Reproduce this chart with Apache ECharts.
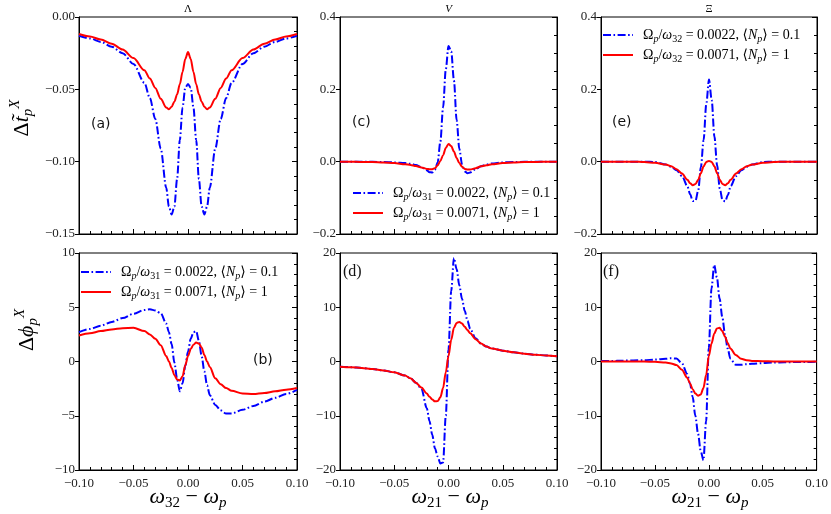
<!DOCTYPE html>
<html>
<head>
<meta charset="utf-8">
<script src="https://cdn.jsdelivr.net/npm/echarts@6/dist/echarts.min.js"></script>
<style>
html, body { margin: 0; padding: 0; background: #fff; }
#container { width: 831px; height: 514px; }
</style>
</head>
<body>
<div id="container"></div>
<script>
// detuning grid (denser near resonance)
var xValues = [-0.1,-0.09,-0.08,-0.07,-0.06,-0.05,-0.04,-0.035,-0.03,-0.025,-0.02,-0.0175,-0.015,-0.0125,-0.01,-0.0075,-0.005,-0.0025,0,
               0.0025,0.005,0.0075,0.01,0.0125,0.015,0.0175,0.02,0.025,0.03,0.035,0.04,0.05,0.06,0.07,0.08,0.09,0.1];

// top row: delta t_p (Lambda, V, Xi)
var tLambdaBlue = [-0.013,-0.0148,-0.0172,-0.0205,-0.025,-0.0325,-0.0455,-0.056,-0.0705,-0.091,-0.118,-0.131,-0.1365,-0.131,-0.112,-0.085,-0.0625,-0.049,-0.0463,
                   -0.049,-0.0625,-0.085,-0.112,-0.131,-0.1365,-0.131,-0.118,-0.091,-0.0705,-0.056,-0.0455,-0.0325,-0.025,-0.0205,-0.0172,-0.0148,-0.013];
var tLambdaRed = [-0.0118,-0.0135,-0.0155,-0.0185,-0.0225,-0.0284,-0.0368,-0.0425,-0.049,-0.0565,-0.0625,-0.0638,-0.062,-0.0585,-0.0535,-0.0465,-0.038,-0.029,-0.0242,
                  -0.029,-0.038,-0.0465,-0.0535,-0.0585,-0.062,-0.0638,-0.0625,-0.0565,-0.049,-0.0425,-0.0368,-0.0284,-0.0225,-0.0185,-0.0155,-0.0135,-0.0118];
var tVBlue = [0,0,0,-0.0005,-0.001,-0.002,-0.004,-0.006,-0.009,-0.015,-0.024,-0.029,-0.03,-0.022,-0.002,0.055,0.15,0.255,0.32,
              0.305,0.225,0.115,0.035,-0.008,-0.027,-0.032,-0.03,-0.021,-0.013,-0.008,-0.005,-0.002,-0.001,-0.0005,0,0,0];
var tVRed = [0,0,-0.001,-0.001,-0.002,-0.004,-0.007,-0.009,-0.012,-0.016,-0.02,-0.021,-0.021,-0.018,-0.01,0.002,0.018,0.038,0.049,
             0.043,0.028,0.01,-0.004,-0.014,-0.02,-0.022,-0.022,-0.018,-0.013,-0.01,-0.007,-0.004,-0.002,-0.001,-0.001,0,0];
var tXiBlue = [0,0,0,0,0,-0.001,-0.008,-0.014,-0.024,-0.04,-0.068,-0.09,-0.109,-0.108,-0.08,-0.015,0.06,0.16,0.227,
               0.17,0.07,-0.01,-0.075,-0.106,-0.11,-0.092,-0.068,-0.04,-0.024,-0.014,-0.008,-0.001,0,0,0,0,0];
var tXiRed = [0,0,0,0,-0.001,-0.003,-0.008,-0.013,-0.021,-0.033,-0.05,-0.06,-0.065,-0.062,-0.05,-0.032,-0.013,-0.001,0.002,
              -0.001,-0.013,-0.032,-0.05,-0.062,-0.065,-0.06,-0.05,-0.033,-0.021,-0.013,-0.008,-0.003,-0.001,0,0,0,0];

// bottom row: delta phi_p
var phiLambdaBlue = [2.7,3.0,3.3,3.65,4.0,4.4,4.75,4.82,4.7,4.45,3.5,2.7,1.6,-0.1,-1.6,-2.75,-2.0,-0.4,0.9,
                     2.1,2.7,2.8,1.9,0.5,-0.9,-2.2,-3.1,-4.0,-4.5,-4.8,-4.8,-4.45,-4.1,-3.7,-3.35,-3.0,-2.62];
var phiLambdaRed = [2.4,2.6,2.8,2.95,3.07,3.1,2.8,2.5,2.1,1.5,0.5,0.0,-0.6,-1.25,-1.65,-1.75,-1.35,-0.35,0.5,
                    1.15,1.55,1.75,1.65,1.3,0.6,0.0,-0.5,-1.55,-2.1,-2.45,-2.7,-2.95,-3.0,-2.9,-2.75,-2.6,-2.45];
var phiVBlue = [-0.95,-1.05,-1.2,-1.4,-1.65,-2.0,-2.6,-3.1,-3.9,-5.0,-8.6,-11.0,-13.5,-16.0,-17.5,-18.8,-18.6,-10.0,2.2,
                13.0,19.1,17.0,14.0,11.5,9.3,7.5,6.0,4.3,3.3,2.75,2.4,2.0,1.7,1.45,1.25,1.1,0.95];
var phiVRed = [-0.95,-1.05,-1.2,-1.4,-1.65,-2.0,-2.6,-3.1,-3.9,-4.8,-5.9,-6.5,-7.0,-7.35,-7.3,-6.6,-4.9,-2.0,1.0,
               4.0,6.2,7.1,7.3,7.0,6.4,5.8,5.2,4.1,3.3,2.75,2.4,2.0,1.7,1.45,1.25,1.1,0.95];
var phiXiBlue = [0.1,0.1,0.15,0.2,0.25,0.35,0.5,0.6,0.55,-0.3,-2.3,-4.0,-6.5,-10.0,-13.3,-16.5,-18.2,-11.0,2.5,
                 13.5,17.8,15.5,11.6,8.2,5.0,2.4,0.5,-0.6,-0.6,-0.5,-0.4,-0.3,-0.2,-0.15,-0.1,-0.1,-0.05];
var phiXiRed = [0,0,0,0,0,-0.05,-0.2,-0.35,-0.65,-1.5,-3.0,-4.0,-5.1,-5.9,-6.3,-6.1,-4.9,-2.5,1.0,
                3.3,5.1,6.1,6.2,5.6,4.6,3.4,2.4,1.2,0.5,0.25,0.1,0.05,0,0,0,0,0];

// axis ranges [min, max, interval, decimals, minor splits]
var xRange = [-0.1, 0.1, 0.05, 2, 5];
var yRanges = [[-0.15, 0, 0.05, 2, 5], [-0.2, 0.4, 0.2, 1, 4], [-0.2, 0.4, 0.2, 1, 4],
               [-10, 10, 5, 0, 5], [-20, 20, 10, 0, 5], [-20, 20, 10, 0, 5]];
var panelTitles = ['Λ', 'V', 'Ξ'];
var panelLetters = ['(a)', '(c)', '(e)', '(b)', '(d)', '(f)'];
var legendTexts = {
    blue31: '{u|Ω}{si|p}{u|/}{i|ω}{s|31}{u| = 0.0022, ⟨}{i|N}{si|p}{u|⟩ = 0.1}',
    red31:  '{u|Ω}{si|p}{u|/}{i|ω}{s|31}{u| = 0.0071, ⟨}{i|N}{si|p}{u|⟩ = 1}',
    blue32: '{u|Ω}{si|p}{u|/}{i|ω}{s|32}{u| = 0.0022, ⟨}{i|N}{si|p}{u|⟩ = 0.1}',
    red32:  '{u|Ω}{si|p}{u|/}{i|ω}{s|32}{u| = 0.0071, ⟨}{i|N}{si|p}{u|⟩ = 1}'
};

var serif = 'Liberation Serif, DejaVu Serif, serif';
var blueDash = [8, 2.5, 1.6, 2.5];

function fmt(dec) {
    return function (v) {
        return (v < -1e-9 ? '−' : '') + Math.abs(v).toFixed(dec);
    };
}
function pairs(ys) {
    return xValues.map(function (x, i) { return [x, ys[i]]; });
}

var boxes = [[79, 17, 218, 217], [340, 17, 217, 217], [601, 17, 216, 217],
             [79, 253, 218, 217], [340, 253, 217, 217], [601, 253, 216, 217]];
var curves = [[tLambdaBlue, tLambdaRed], [tVBlue, tVRed], [tXiBlue, tXiRed],
              [phiLambdaBlue, phiLambdaRed], [phiVBlue, phiVRed], [phiXiBlue, phiXiRed]];
var names = [['a1', 'a2'], ['blue31', 'red31'], ['blue32', 'red32'],
             ['blue31', 'red31'], ['d1', 'd2'], ['f1', 'f2']];

var grids = [], xAxes = [], yAxes = [], series = [];
for (var i = 0; i < 6; i++) {
    var b = boxes[i], yr = yRanges[i];
    grids.push({left: b[0], top: b[1], width: b[2], height: b[3], show: true,
                borderColor: '#000', borderWidth: 1, backgroundColor: 'transparent'});
    xAxes.push({
        type: 'value', gridIndex: i, min: xRange[0], max: xRange[1], interval: xRange[2],
        axisLine: {show: true, onZero: false, lineStyle: {color: '#000', width: 1}},
        axisTick: {show: true, inside: true, length: 5, lineStyle: {color: '#000'}},
        minorTick: {show: true, splitNumber: xRange[4], length: 3, lineStyle: {color: '#000'}},
        splitLine: {show: false},
        axisLabel: {show: i >= 3, formatter: fmt(xRange[3]), fontFamily: serif, fontSize: 13,
                    color: '#222', margin: 7}
    });
    yAxes.push({
        type: 'value', gridIndex: i, position: 'left', min: yr[0], max: yr[1], interval: yr[2],
        axisLine: {show: true, onZero: false, lineStyle: {color: '#000', width: 1}},
        axisTick: {show: true, inside: false, length: 4, lineStyle: {color: '#000'}},
        splitLine: {show: false},
        axisLabel: {formatter: fmt(yr[3]), fontFamily: serif, fontSize: 13, color: '#222', margin: 4}
    });
    yAxes.push({
        type: 'value', gridIndex: i, position: 'right', min: yr[0], max: yr[1], interval: yr[2],
        axisLine: {show: true, onZero: false, lineStyle: {color: '#000', width: 1}},
        axisTick: {show: true, inside: true, length: 5, lineStyle: {color: '#000'}},
        minorTick: {show: true, splitNumber: yr[4], length: 3, lineStyle: {color: '#000'}},
        splitLine: {show: false},
        axisLabel: {show: false}
    });
    series.push({
        name: names[i][0], type: 'line', xAxisIndex: i, yAxisIndex: 2 * i, data: pairs(curves[i][0]),
        symbol: 'none', smooth: 0.3, smoothMonotone: 'x', itemStyle: {color: '#0000ff'},
        lineStyle: {color: '#0000ff', width: 2, type: blueDash}
    });
    series.push({
        name: names[i][1], type: 'line', xAxisIndex: i, yAxisIndex: 2 * i, data: pairs(curves[i][1]),
        symbol: 'none', smooth: 0.3, smoothMonotone: 'x', itemStyle: {color: '#ff0000'},
        lineStyle: {color: '#ff0000', width: 2}
    });
}

var legendRich = {
    u: {fontFamily: serif, fontSize: 14, color: '#000', lineHeight: 18},
    i: {fontFamily: serif, fontSize: 14, fontStyle: 'italic', color: '#000', lineHeight: 18},
    s: {fontFamily: serif, fontSize: 10, color: '#000', lineHeight: 11, verticalAlign: 'bottom'},
    si: {fontFamily: serif, fontSize: 10, fontStyle: 'italic', color: '#000', lineHeight: 11, verticalAlign: 'bottom'}
};
function makeLegend(left, top, data) {
    return {
        left: left, top: top, orient: 'vertical', data: data, itemWidth: 30, itemHeight: 14, itemGap: 4,
        selectedMode: false, padding: 0,
        itemStyle: {color: 'rgba(0,0,0,0)', borderWidth: 0, opacity: 0},
        formatter: function (name) { return legendTexts[name]; },
        textStyle: {rich: legendRich, padding: [0, 0, 0, 5]}
    };
}

var nameRich = {
    u: {fontFamily: serif, fontSize: 22, color: '#000', lineHeight: 28},
    i: {fontFamily: serif, fontSize: 22, fontStyle: 'italic', color: '#000', lineHeight: 28},
    s: {fontFamily: serif, fontSize: 15, color: '#000', lineHeight: 16, verticalAlign: 'bottom'},
    si: {fontFamily: serif, fontSize: 15, fontStyle: 'italic', color: '#000', lineHeight: 16, verticalAlign: 'bottom'},
    sup: {fontFamily: serif, fontSize: 15, fontStyle: 'italic', color: '#000', lineHeight: 16, verticalAlign: 'top'}
};

var graphics = [];
for (var k = 0; k < 3; k++) {
    graphics.push({type: 'text', x: boxes[k][0] + boxes[k][2] / 2, y: 9,
        style: {text: panelTitles[k], fill: '#000', align: 'center', verticalAlign: 'middle',
                font: (k == 1 ? 'italic ' : '') + '11px ' + serif}});
}
var letterPos = [[91, 124], [352, 122], [612, 122], [253, 360], [343, 272], [603, 272]];
for (var m = 0; m < 6; m++) {
    var sans = (m < 4);
    graphics.push({type: 'text', x: letterPos[m][0], y: letterPos[m][1],
        style: {text: panelLetters[m], fill: '#111', align: 'left', verticalAlign: 'middle',
                font: sans ? '14px DejaVu Sans, sans-serif' : '16px ' + serif}});
}
graphics.push({type: 'text', x: 22, y: 118, rotation: Math.PI / 2,
    style: {text: '{u|Δ}{i|t̃}{si|p}{sup|X}', rich: nameRich, align: 'center', verticalAlign: 'middle'}});
graphics.push({type: 'text', x: 27, y: 330, rotation: Math.PI / 2,
    style: {text: '{u|Δ}{i|ϕ}{si|p}{sup|X}', rich: nameRich, align: 'center', verticalAlign: 'middle'}});
var xNames = [[188, '32'], [450, '21'], [710, '21']];
for (var n = 0; n < 3; n++) {
    graphics.push({type: 'text', x: xNames[n][0], y: 497,
        style: {text: '{i|ω}{s|' + xNames[n][1] + '}{u| − }{i|ω}{si|p}', rich: nameRich,
                align: 'center', verticalAlign: 'middle'}});
}

var myChart = echarts.init(document.getElementById('container'), null, {renderer: 'canvas'});
var option = {
    backgroundColor: '#fff',
    animation: false,
    grid: grids,
    xAxis: xAxes,
    yAxis: yAxes,
    legend: [makeLegend(80, 265, ['blue31', 'red31']),
             makeLegend(352, 186, ['blue31', 'red31']),
             makeLegend(602, 28, ['blue32', 'red32'])],
    graphic: graphics,
    series: series
};
myChart.setOption(option);
</script>
</body>
</html>
